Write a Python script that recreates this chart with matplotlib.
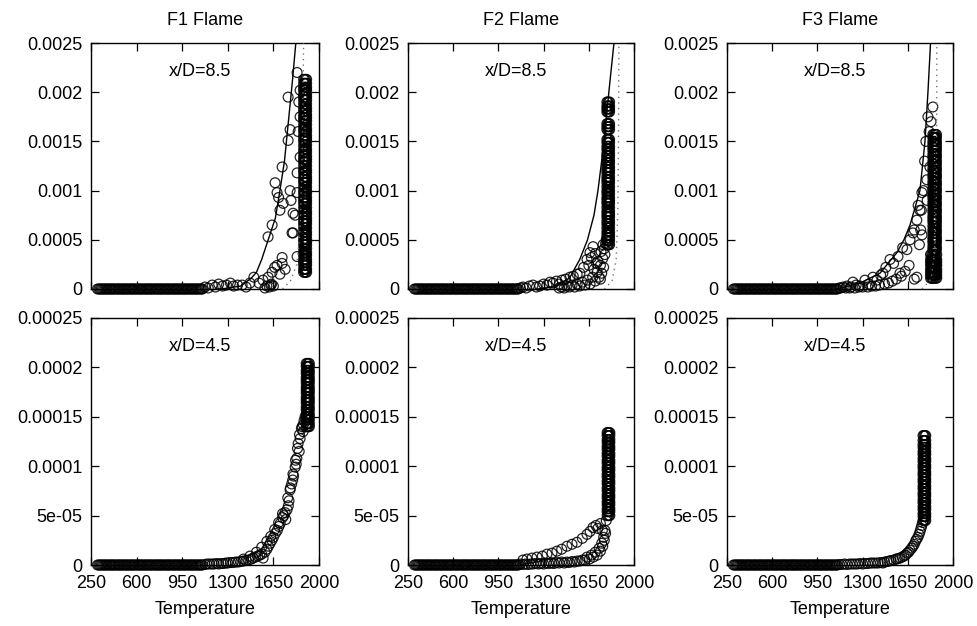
import matplotlib
matplotlib.use("Agg")
import matplotlib.pyplot as plt

plt.rcParams['font.family'] = ['Liberation Sans', 'DejaVu Sans']

titles = ["F1 Flame", "F2 Flame", "F3 Flame"]
xticks = [250, 600, 950, 1300, 1650, 2000]
top_yticks = [0, 0.0005, 0.001, 0.0015, 0.002, 0.0025]
top_ylabels = ["0", "0.0005", "0.001", "0.0015", "0.002", "0.0025"]
bot_yticks = [0, 0.00005, 0.0001, 0.00015, 0.0002, 0.00025]
bot_ylabels = ["0", "5e-05", "0.0001", "0.00015", "0.0002", "0.00025"]

# dense run of samples sitting on zero (cold side), same for every panel
base_T = [300, 310, 320, 329, 338, 348, 357, 366, 375, 386, 396, 405, 414, 424,
          433, 444, 455, 463, 472, 483, 493, 502, 512, 521, 530, 541, 551, 560,
          570, 579, 588, 599, 610, 619, 628, 637, 647, 658, 668, 677, 686, 696,
          705, 714, 724, 735, 745, 754, 763, 772, 782, 791, 800, 811, 821, 830,
          840, 849, 858, 869, 879, 888, 897, 906, 916, 925, 935, 945, 955, 964,
          973, 982, 992, 1002, 1012, 1021, 1030, 1040, 1050, 1059, 1068, 1078,
          1088, 1096, 1105]

# ---- x/D = 8.5 ----
f1_85_T = [1125, 1150, 1180, 1205, 1230, 1260, 1290, 1320, 1345, 1375, 1410, 1440,
           1470, 1500, 1540, 1570, 1600, 1610, 1630, 1640, 1660, 1678, 1717, 1717,
           1640, 1609, 1663, 1678, 1717, 1725, 1763, 1778, 1763, 1832, 1855, 1855,
           1855, 1832, 1832, 1817, 1801, 1832, 1690, 1700, 1778, 1785, 1801, 1793,
           1740, 1840, 1845, 1620, 1635, 1650, 1585, 1700]
f1_85_v = [0.00002, 0.00001, 0.00004, 0.00002, 0.00005, 0.00003, 0.00004, 0.00006,
           0.00003, 0.00004, 0.00004, 0.00002, 0.00006, 0.00012, 0.00006, 0.00009,
           0.00003, 0.00012, 0.00004, 0.00017, 0.00022, 0.00024, 0.00026, 0.00032,
           0.00065, 0.00053, 0.00108, 0.00098, 0.00124, 0.00087, 0.00151, 0.00162,
           0.00195, 0.0022, 0.00202, 0.00175, 0.00134, 0.00118, 0.00098, 0.00075,
           0.00057, 0.00033, 0.00093, 0.0008, 0.001, 0.0009, 0.00077, 0.00057,
           0.0002, 0.0016, 0.0019, 0.00002, 0.00005, 0.00003, 0.00001, 0.00015]
f1_85_colT = [1882, 1890, 1898, 1905]
f1_85_colv = [0.00017, 0.0002, 0.00024, 0.00027, 0.0003, 0.00034, 0.00037, 0.00041,
              0.00045, 0.00048, 0.00051, 0.00055, 0.00058, 0.00062, 0.00066,
              0.00069, 0.00072, 0.00076, 0.00079, 0.00083, 0.00087, 0.0009, 0.00093,
              0.00097, 0.001, 0.00104, 0.00108, 0.00111, 0.00114, 0.00118, 0.00121,
              0.00125, 0.00129, 0.00132, 0.00135, 0.00139, 0.00142, 0.00146,
              0.0015, 0.00153, 0.00156, 0.0016, 0.00163, 0.00167, 0.00171, 0.00174,
              0.00177, 0.00181, 0.00184, 0.00188, 0.00192, 0.00195, 0.00198,
              0.00202, 0.00205, 0.00209, 0.00213]
f1_85_solid_T = [1250, 1400, 1480, 1520, 1560, 1610, 1665, 1700, 1735, 1765, 1795, 1822]
f1_85_solid_v = [0, 0.00003, 0.00011, 0.00017, 0.0003, 0.0005, 0.00072, 0.001,
                 0.0013, 0.0017, 0.0021, 0.0025]
f1_85_dot_T = [1720, 1780, 1830, 1855, 1868, 1876, 1882]
f1_85_dot_v = [0, 0.00008, 0.00025, 0.0006, 0.0012, 0.0019, 0.0025]

f2_85_T = [1120, 1140, 1165, 1190, 1218, 1245, 1270, 1300, 1326, 1350, 1372, 1400,
           1420, 1442, 1470, 1504, 1530, 1560, 1581, 1610, 1636, 1659, 1683, 1700,
           1420, 1460, 1500, 1540, 1580, 1620, 1660, 1700, 1730, 1750, 1765, 1775,
           1785, 1690, 1720, 1745, 1760, 1740, 1440, 1480, 1520, 1560, 1600, 1640,
           1680, 1715, 1740, 1758, 1770, 1780, 1650, 1670, 1710]
f2_85_v = [0.00001, 0.00002, 0.00001, 0.00003, 0.00004, 0.00002, 0.00003, 0.00005,
           0.00004, 0.00007, 0.00006, 0.00008, 0.00005, 0.00009, 0.0001, 0.00012,
           0.00013, 0.00015, 0.00016, 0.00022, 0.0003, 0.00037, 0.00043, 0.00036,
           0.00001, 0.00001, 0.00002, 0.00002, 0.00003, 0.00004, 0.00005, 0.00008,
           0.00012, 0.00016, 0.00022, 0.00035, 0.0005, 0.0002, 0.00028, 0.00038,
           0.00045, 0.0001, 0.00002, 0.00003, 0.00004, 0.00005, 0.00007, 0.00009,
           0.00012, 0.00017, 0.00024, 0.00031, 0.00041, 0.00046, 0.00024, 0.00032,
           0.00026]
f2_85_colT = [1790, 1797, 1804, 1811]
f2_85_colv = [0.00045, 0.00049, 0.00052, 0.00055, 0.00058, 0.00062, 0.00066,
              0.00069, 0.00073, 0.00076, 0.00079, 0.00083, 0.00087, 0.0009, 0.00093,
              0.00097, 0.001, 0.00104, 0.00108, 0.00111, 0.00114, 0.00118, 0.00121,
              0.00124, 0.00128, 0.00131, 0.00135, 0.00138, 0.00142, 0.00145,
              0.00149, 0.00152, 0.00162, 0.00165, 0.00168, 0.0018, 0.00183, 0.00186,
              0.0019]
f2_85_solid_T = [1250, 1372, 1500, 1580, 1640, 1690, 1721, 1759, 1790, 1813, 1845]
f2_85_solid_v = [0, 0.00002, 0.00011, 0.0003, 0.0005, 0.00075, 0.001, 0.0014,
                 0.0018, 0.0021, 0.0025]
f2_85_dot_T = [1770, 1830, 1862, 1875, 1880, 1883]
f2_85_dot_v = [0, 0.00008, 0.0003, 0.0008, 0.0015, 0.0025]

f3_85_T = [1120, 1150, 1180, 1210, 1225, 1250, 1280, 1318, 1350, 1380, 1411, 1440,
           1457, 1480, 1512, 1540, 1574, 1589, 1610, 1643, 1667, 1690, 1720, 1744,
           1759, 1798, 1806, 1821, 1844, 1700, 1730, 1750, 1760, 1740, 1780, 1790,
           1815, 1800, 1700, 1720, 1755, 1770, 1830, 1130, 1170, 1200, 1240, 1270,
           1300, 1340, 1370, 1400, 1430, 1470, 1500, 1530, 1560, 1600, 1630, 1660]
f3_85_v = [0.00001, 0.00002, 0.00003, 0.00002, 0.00007, 0.00004, 0.00003, 0.00009,
           0.00005, 0.00012, 0.00009, 0.00014, 0.00016, 0.00022, 0.0003, 0.00026,
           0.00033, 0.00016, 0.00042, 0.0004, 0.0005, 0.00057, 0.0007, 0.0008,
           0.00098, 0.00111, 0.00175, 0.00124, 0.00185, 0.0006, 0.00085, 0.0006,
           0.00055, 0.00045, 0.0013, 0.0015, 0.0016, 0.0009, 0.0001, 0.00012,
           0.0008, 0.001, 0.0017, 0.00001, 0.00001, 0.00001, 0.00001, 0.00002,
           0.00002, 0.00002, 0.00003, 0.00003, 0.00004, 0.00005, 0.00006, 0.00008,
           0.0001, 0.00013, 0.00018, 0.00024]
f3_85_colT = [1844, 1851, 1858, 1865, 1872]
f3_85_colv = [0.0004, 0.00043, 0.00047, 0.0005, 0.00053, 0.00057, 0.0006, 0.00064,
              0.00068, 0.00071, 0.00074, 0.00078, 0.00081, 0.00085, 0.00088,
              0.00092, 0.00095, 0.00099, 0.00102, 0.00106, 0.00109, 0.00113,
              0.00116, 0.0012, 0.00123, 0.00127, 0.0013, 0.00134, 0.00137, 0.00141,
              0.00144, 0.00147, 0.0015, 0.00154, 0.00157]
f3_85_lowT = [1826, 1834, 1842, 1850, 1858, 1866, 1874]
f3_85_lowv = [0.00011, 0.00014, 0.00017, 0.0002, 0.00024, 0.00027, 0.0003, 0.00035]
f3_85_solid_T = [1100, 1279, 1434, 1566, 1620, 1667, 1744, 1783, 1806, 1826]
f3_85_solid_v = [0, 0.00006, 0.00016, 0.00037, 0.0005, 0.00065, 0.001, 0.0015,
                 0.002, 0.0025]
f3_85_dot_T = [1760, 1830, 1860, 1872, 1875]
f3_85_dot_v = [0, 0.0001, 0.0004, 0.001, 0.0025]

# ---- x/D = 4.5 ----
f1_45_T = [1125, 1160, 1195, 1230, 1265, 1300, 1340, 1380, 1420, 1460, 1494, 1530,
           1560, 1571, 1600, 1625, 1650, 1680, 1702, 1720, 1740, 1755, 1770, 1778,
           1790, 1805, 1817, 1830, 1840, 1855, 1870, 1885, 1893,
           1420, 1470, 1520, 1560, 1600, 1630, 1660, 1690, 1720, 1745, 1760, 1780,
           1800, 1820, 1835, 1850, 1865, 1880,
           1140, 1180, 1215, 1250, 1285, 1320, 1360, 1400, 1440, 1480, 1512, 1545,
           1585, 1612, 1638, 1665, 1692, 1730, 1765, 1798, 1825, 1848, 1878]
f1_45_v = [0.5e-6, 1e-6, 1e-6, 1e-6, 1.5e-6, 2e-6, 2.5e-6, 3e-6, 4e-6, 5e-6, 7e-6,
           9e-6, 1.1e-5, 7e-6, 1.6e-5, 2.2e-5, 2.8e-5, 3.5e-5, 4.2e-5, 4.8e-5,
           5.3e-5, 5.6e-5, 6.5e-5, 7.6e-5, 8.2e-5, 9e-5, 9.9e-5, 0.000108,
           0.000123, 0.000128, 0.00014, 0.000146, 0.00015,
           6e-6, 9e-6, 1.3e-5, 1.8e-5, 2.4e-5, 2.9e-5, 3.6e-5, 4.3e-5, 5.2e-5,
           4.6e-5, 6.8e-5, 7.8e-5, 9.2e-5, 0.000106, 0.000118, 0.000132, 0.000138,
           0.000142,
           1e-6, 1e-6, 1.5e-6, 1.5e-6, 2e-6, 2.5e-6, 3e-6, 3.5e-6, 4.5e-6, 6e-6,
           8e-6, 1e-5, 1.3e-5, 1.9e-5, 2.5e-5, 3.2e-5, 3.9e-5, 5e-5, 6e-5, 8.6e-5,
           0.000102, 0.000115, 0.000135]
f1_45_colT = [1902, 1910, 1918, 1926]
f1_45_colv = [0.00014, 0.000143, 0.000147, 0.00015, 0.000153, 0.000157, 0.00016,
              0.000164, 0.000167, 0.00017, 0.000174, 0.000177, 0.00018, 0.000184,
              0.000187, 0.00019, 0.000194, 0.000197, 0.000201, 0.000204]

f2_45_T = [1140, 1171, 1210, 1249, 1290, 1326, 1365, 1403, 1440, 1481, 1520, 1558,
           1600, 1636, 1660, 1682, 1705, 1720, 1740, 1755,
           1120, 1160, 1200, 1240, 1280, 1320, 1360, 1400, 1440, 1480, 1520, 1560,
           1600, 1636, 1670, 1700, 1730, 1750, 1765, 1775, 1785,
           1140, 1180, 1220, 1260, 1300, 1340, 1380, 1420, 1460, 1500, 1540, 1580,
           1620, 1655, 1685, 1715, 1740, 1758, 1770, 1780]
f2_45_v = [5e-6, 6e-6, 7e-6, 8e-6, 9e-6, 1.1e-5, 1.2e-5, 1.4e-5, 1.6e-5, 1.9e-5,
           2.1e-5, 2.3e-5, 2.7e-5, 3.1e-5, 3.4e-5, 3.8e-5, 4e-5, 3.7e-5, 4.2e-5,
           3.5e-5,
           1e-6, 1e-6, 1e-6, 1.5e-6, 1.5e-6, 2e-6, 2e-6, 2.5e-6, 3e-6, 3e-6, 3.5e-6,
           4e-6, 5e-6, 8e-6, 1e-5, 1.3e-5, 1.7e-5, 2.2e-5, 2.8e-5, 3.5e-5, 4.5e-5,
           0.5e-6, 0.5e-6, 1e-6, 1e-6, 1e-6, 1.5e-6, 1.5e-6, 2e-6, 2e-6, 2.5e-6,
           3e-6, 4e-6, 5e-6, 6e-6, 8e-6, 1e-5, 1.4e-5, 1.9e-5, 2.5e-5, 3.2e-5]
f2_45_colT = [1792, 1799, 1806, 1813]
f2_45_colv = [5e-5, 5.4e-5, 5.7e-5, 6.1e-5, 6.4e-5, 6.8e-5, 7.1e-5, 7.5e-5, 7.8e-5,
              8.2e-5, 8.5e-5, 8.9e-5, 9.2e-5, 9.6e-5, 9.9e-5, 0.000103, 0.000106,
              0.00011, 0.000113, 0.000117, 0.00012, 0.000124, 0.000127, 0.000131,
              0.000134]

f3_45_T = [1120, 1160, 1200, 1240, 1280, 1320, 1360, 1400, 1440, 1457, 1490, 1520,
           1560, 1589, 1620, 1645, 1667, 1690, 1710, 1728, 1745, 1758,
           1140, 1180, 1220, 1260, 1300, 1340, 1380, 1420, 1470, 1505, 1540, 1575,
           1605, 1632, 1656, 1680, 1700, 1718, 1737, 1752, 1765]
f3_45_v = [0.5e-6, 1e-6, 1e-6, 1e-6, 1.5e-6, 1.5e-6, 2e-6, 2e-6, 2.5e-6, 2e-6,
           3.5e-6, 4.5e-6, 6e-6, 7e-6, 9e-6, 1.2e-5, 1.5e-5, 1.9e-5, 2.4e-5,
           2.8e-5, 3.4e-5, 4e-5,
           0.5e-6, 0.5e-6, 1e-6, 1e-6, 1e-6, 1.5e-6, 2e-6, 2e-6, 3e-6, 4e-6, 5e-6,
           6.5e-6, 8e-6, 1e-5, 1.3e-5, 1.7e-5, 2.1e-5, 2.6e-5, 3.1e-5, 3.7e-5,
           4.3e-5]
f3_45_colT = [1768, 1775, 1782, 1789]
f3_45_colv = [4.5e-5, 4.9e-5, 5.2e-5, 5.6e-5, 5.9e-5, 6.3e-5, 6.6e-5, 7e-5, 7.3e-5,
              7.7e-5, 8e-5, 8.4e-5, 8.7e-5, 9.1e-5, 9.4e-5, 9.8e-5, 0.000101,
              0.000105, 0.000108, 0.000112, 0.000115, 0.000119, 0.000122,
              0.000126, 0.000131]

top_sets = [
    (f1_85_T, f1_85_v, f1_85_colT, f1_85_colv, f1_85_solid_T, f1_85_solid_v, f1_85_dot_T, f1_85_dot_v),
    (f2_85_T, f2_85_v, f2_85_colT, f2_85_colv, f2_85_solid_T, f2_85_solid_v, f2_85_dot_T, f2_85_dot_v),
    (f3_85_T, f3_85_v, f3_85_colT, f3_85_colv, f3_85_solid_T, f3_85_solid_v, f3_85_dot_T, f3_85_dot_v),
]
bot_sets = [
    (f1_45_T, f1_45_v, f1_45_colT, f1_45_colv),
    (f2_45_T, f2_45_v, f2_45_colT, f2_45_colv),
    (f3_45_T, f3_45_v, f3_45_colT, f3_45_colv),
]

W, H = 978, 626
fig = plt.figure(figsize=(W / 100, H / 100), dpi=100)
lefts = [91, 408, 727]
widths = [228, 226, 226]
FS = 13

# gnuplot style: points are not clipped at the frame
mk = dict(s=50, facecolors='none', edgecolors='black', linewidths=0.9, alpha=0.85,
          zorder=3, clip_on=False)


def style(ax, yt, yl):
    ax.set_xlim(250, 2000)
    ax.set_xticks(xticks)
    ax.set_yticks(yt)
    ax.set_yticklabels(yl)
    ax.tick_params(direction='in', top=True, right=True, length=6, width=0.9,
                   labelsize=FS)
    ax.tick_params(axis='y', pad=6)
    ax.tick_params(axis='x', pad=7)
    for sp in ax.spines.values():
        sp.set_linewidth(1.0)


for i in range(3):
    # top row, x/D = 8.5
    ax = fig.add_axes([lefts[i] / W, 1 - 289 / H, widths[i] / W, 246 / H])
    T, v, cT, cv, sT, sv, dT, dv = top_sets[i]
    ax.scatter(base_T, [0] * len(base_T), **mk)
    ax.scatter(T, v, **mk)
    for t in cT:
        ax.scatter([t] * len(cv), cv, **mk)
    if i == 2:
        for t in f3_85_lowT:
            ax.scatter([t] * len(f3_85_lowv), f3_85_lowv, **mk)
    ax.plot(sT, sv, color='black', lw=1.0, zorder=4)
    ax.plot(dT, dv, color='#777777', lw=1.0, ls=(0, (1, 3)), zorder=4)
    ax.set_ylim(0, 0.0025)
    style(ax, top_yticks, top_ylabels)
    ax.set_xticklabels([])
    ax.set_title(titles[i], fontsize=FS, pad=13)
    ax.text(0.48, 0.885, "x/D=8.5", transform=ax.transAxes, ha='center',
            va='center', fontsize=FS)

    # bottom row, x/D = 4.5
    ax = fig.add_axes([lefts[i] / W, 1 - 565 / H, widths[i] / W, 247 / H])
    T, v, cT, cv = bot_sets[i]
    ax.scatter(base_T, [0] * len(base_T), **mk)
    ax.scatter(T, v, **mk)
    for t in cT:
        ax.scatter([t] * len(cv), cv, **mk)
    ax.set_ylim(0, 0.00025)
    style(ax, bot_yticks, bot_ylabels)
    ax.set_xlabel("Temperature", fontsize=FS, labelpad=7)
    ax.text(0.48, 0.885, "x/D=4.5", transform=ax.transAxes, ha='center',
            va='center', fontsize=FS)

fig.savefig("out.png", dpi=100)
